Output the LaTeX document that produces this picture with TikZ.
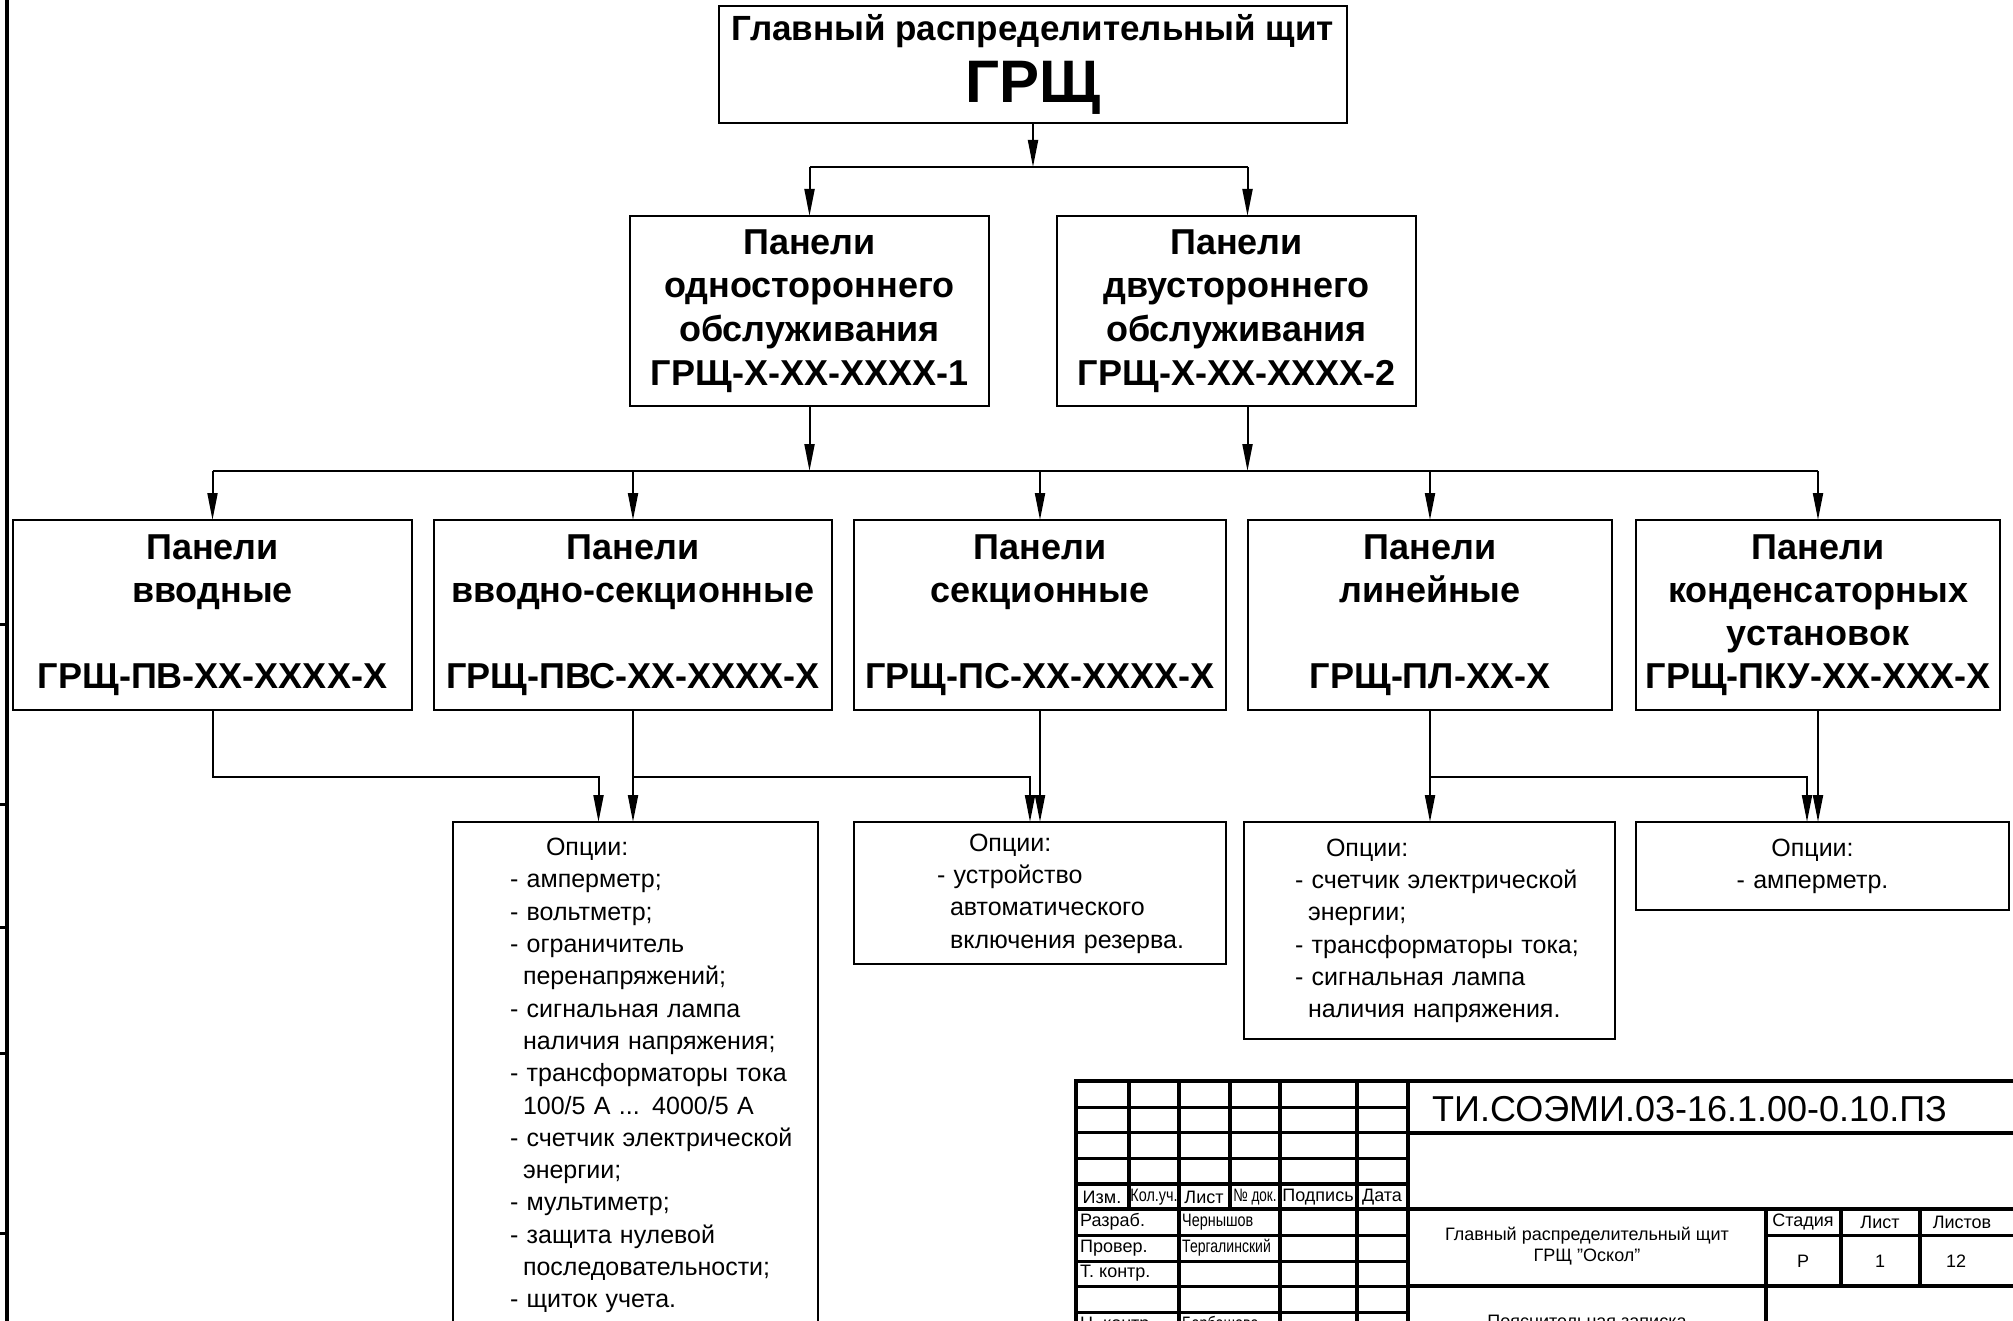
\documentclass[tikz,border=0pt]{standalone}
\usepackage{fontspec}
\setmainfont{Liberation Sans}
\usepackage{graphicx}
\usetikzlibrary{arrows.meta,positioning,calc}
\newcommand{\optind}{\hspace*{13pt}}
\newcommand{\narrow}[1]{\scalebox{0.8}[1]{#1}}

\begin{document}
\begin{tikzpicture}[
  x=1pt, y=-1pt, >={Triangle[length=27pt,width=10pt]},
  node distance=22pt,
  box/.style={draw, line width=2.5pt, align=center, inner sep=0pt, outer sep=0pt, minimum height=190pt, font=\bfseries\fontsize{36}{43}\selectfont},
  opt/.style={draw, line width=2.5pt, anchor=north west, align=left, inner xsep=0pt, inner ysep=11pt, outer sep=0pt, font=\fontsize{25}{32.3}\selectfont},
  link/.style={line width=2pt},
  arr/.style={link, ->},
  stampline/.style={line width=4.5pt},
  stamprule/.style={line width=3pt},
  cell/.style={inner sep=0pt, font=\fontsize{18}{20.5}\selectfont}
]
\useasboundingbox (0,0) rectangle (2013,1321);
\clip (0,0) rectangle (2013,1321);

% sheet border on the left
\draw[line width=4pt] (7,0) -- (7,1321);
\foreach \y in {624,804,927,1053,1233}
  \draw[stamprule] (0,\y) -- (7,\y);

% top level
\node[box, minimum width=628pt, minimum height=117pt, anchor=north west] (grsh) at (719,6)
  {{\fontsize{35}{42}\selectfont Главный распределительный щит}\\[12pt]{\fontsize{60}{60}\selectfont ГРЩ}};

% service type
\node[box, minimum width=359pt, anchor=north west, font=\bfseries\fontsize{36}{43.6}\selectfont] (odno) at (630,216)
  {Панели\\одностороннего\\обслуживания\\ГРЩ-Х-ХХ-ХХХХ-1};
\node[box, minimum width=359pt, anchor=north west, font=\bfseries\fontsize{36}{43.6}\selectfont] (dvu) at (1057,216)
  {Панели\\двустороннего\\обслуживания\\ГРЩ-Х-ХХ-ХХХХ-2};

% panel kinds
\node[box, minimum width=399pt, anchor=north west] (vvod) at (13,520)
  {Панели\\вводные\\\mbox{}\\ГРЩ-ПВ-ХХ-ХХХХ-Х};
\node[box, minimum width=398pt, right=of vvod] (vvsek)
  {Панели\\вводно-секционные\\\mbox{}\\ГРЩ-ПВС-ХХ-ХХХХ-Х};
\node[box, minimum width=372pt, right=of vvsek] (sek)
  {Панели\\секционные\\\mbox{}\\ГРЩ-ПС-ХХ-ХХХХ-Х};
\node[box, minimum width=364pt, right=of sek] (lin)
  {Панели\\линейные\\\mbox{}\\ГРЩ-ПЛ-ХХ-Х};
\node[box, minimum width=364pt, right=24pt of lin] (kond)
  {Панели\\конденсаторных\\установок\\ГРЩ-ПКУ-ХХ-ХХХ-Х};

% options
\node[opt, text width=365pt] (optvv) at (453,822)
  {\noindent\begin{tabular}{@{\hspace{57pt}}l@{}}
   \hspace{36pt}Опции:\\
   - амперметр;\\
   - вольтметр;\\
   - ограничитель\\
   \optind перенапряжений;\\
   - сигнальная лампа\\
   \optind наличия напряжения;\\
   - трансформаторы тока\\
   \optind 100/5 А ... 4000/5 А\\
   - счетчик электрической\\
   \optind энергии;\\
   - мультиметр;\\
   - защита нулевой\\
   \optind последовательности;\\
   - щиток учета.
   \end{tabular}};
\node[opt, text width=372pt, inner ysep=6.5pt] (optsek) at (854,822)
  {\noindent\begin{tabular}{@{\hspace{83pt}}l@{}}
   \hspace{32pt}Опции:\\
   - устройство\\
   \optind автоматического\\
   \optind включения резерва.
   \end{tabular}};
\node[opt, text width=371pt, inner ysep=11.5pt] (optlin) at (1244,822)
  {\noindent\begin{tabular}{@{\hspace{51pt}}l@{}}
   \hspace{31pt}Опции:\\
   - счетчик электрической\\
   \optind энергии;\\
   - трансформаторы тока;\\
   - сигнальная лампа\\
   \optind наличия напряжения.
   \end{tabular}};
\node[opt, text width=373pt, inner ysep=11.7pt, align=center] (optkond) at (1636,822)
  {\begin{tabular}{@{}c@{\hspace{20pt}}}Опции:\\- амперметр.\end{tabular}};

% connectors
\coordinate (dvuin) at ($(dvu.north)+(11,0)$);
\coordinate (dvuout) at ($(dvu.south)+(11,0)$);
\draw[arr] (grsh.south) -- ++(0,44) coordinate (j1);
\draw[link] (odno.north |- j1) -- (dvuin |- j1);
\draw[arr] (odno.north |- j1) -- (odno.north);
\draw[arr] (dvuin |- j1) -- (dvuin);

\coordinate (j2) at ($(odno.south)+(0,65)$);
\draw[arr] (odno.south) -- (odno.south |- j2);
\draw[arr] (dvuout) -- (dvuout |- j2);
\draw[link] (vvod.north |- j2) -- (kond.north |- j2);
\foreach \n in {vvod,vvsek,sek,lin,kond}
  \draw[arr] (\n.north |- j2) -- (\n.north);

\coordinate (j3) at ($(vvod.south)+(0,67)$);
\draw[arr] (vvod.south) -- (vvod.south |- j3) -| ($(optvv.north)+(-37,0)$);
\draw[arr] (vvsek.south) -- (vvsek.south |- optvv.north);
\draw[arr] (vvsek.south |- j3) -| ($(sek.south |- optsek.north)+(-10,0)$);
\draw[arr] (sek.south) -- (sek.south |- optsek.north);
\draw[arr] (lin.south) -- (lin.south |- optlin.north);
\draw[arr] (lin.south |- j3) -| ($(kond.south |- optkond.north)+(-11,0)$);
\draw[arr] (kond.south) -- (kond.south |- optkond.north);

% title block
\draw[stampline] (1076,1340) -- (1076,1081) -- (2030,1081);
\draw[stampline] (1408,1081) -- (1408,1340);
\draw[stampline] (1076,1184) -- (1408,1184);
\draw[stampline] (1076,1209) -- (2030,1209);
\draw[stampline] (1408,1133) -- (2030,1133);
\draw[stampline] (1408,1286) -- (2030,1286);
\draw[stampline] (1766,1209) -- (1766,1340);
\foreach \x in {1841,1920}
  \draw[stampline] (\x,1209) -- (\x,1286);
\foreach \x in {1129,1230}
  \draw[stampline] (\x,1081) -- (\x,1209);
\foreach \x in {1179,1280,1357}
  \draw[stampline] (\x,1081) -- (\x,1340);
\foreach \y in {1107,1132,1158,1235,1261,1286,1312}
  \draw[stamprule] (1076,\y) -- (1408,\y);
\draw[stamprule] (1766,1235) -- (2030,1235);

\foreach \x/\t in {1102/Изм., 1204/Лист, 1318/Подпись, 1382/Дата}
  \node[cell] at (\x,1197) {\t};
\node[cell] at (1154,1197) {\narrow{Кол.уч.}};
\node[cell] at (1255,1197) {\scalebox{0.75}[1]{№ док.}};
\foreach \y/\t in {1222/Разраб., 1248/Провер., 1273/Т. контр., 1325/Н. контр.}
  \node[cell, anchor=west] at (1080,\y) {\t};
\node[cell, anchor=west] at (1182,1222) {\narrow{Чернышов}};
\node[cell, anchor=west] at (1182,1248) {\scalebox{0.78}[1]{Тергалинский}};
\node[cell, anchor=west] at (1182,1325) {\narrow{Барбашова}};

\node[cell, anchor=west, font=\fontsize{36}{40}\selectfont] at (1432,1109) {ТИ.СОЭМИ.03-16.1.00-0.10.ПЗ};
\node[cell, align=center] at (1587,1246) {Главный распределительный щит\\ГРЩ \char34Оскол\char34};
\foreach \x/\t in {1803/Стадия, 1880/Лист, 1962/Листов}
  \node[cell] at (\x,1222) {\t};
\foreach \x/\t in {1803/Р, 1880/1, 1956/12}
  \node[cell] at (\x,1261) {\t};
\node[cell] at (1587,1321) {Пояснительная записка};
\end{tikzpicture}
\end{document}
